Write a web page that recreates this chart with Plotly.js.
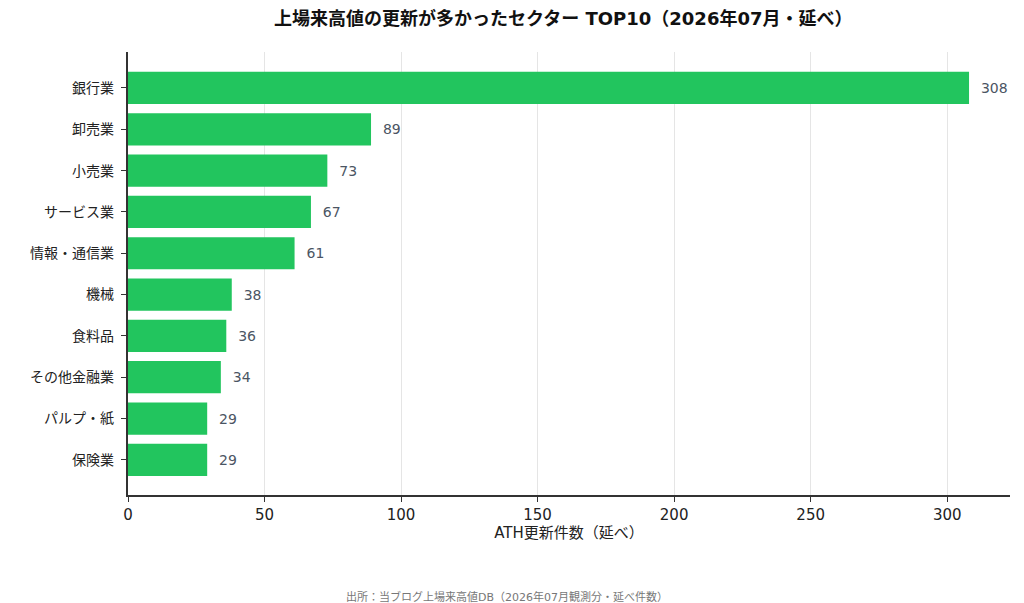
<!DOCTYPE html>
<html>
<head>
<meta charset="utf-8">
<script src="https://cdn.plot.ly/plotly-3.0.1.min.js"></script>
<style>html,body{margin:0;padding:0;background:#fff}</style>
</head>
<body>
<div id="chart" style="width:1024px;height:603px"></div>
<script>
const sectors = ['銀行業', '卸売業', '小売業', 'サービス業', '情報・通信業', '機械', '食料品', 'その他金融業', 'パルプ・紙', '保険業'];
const counts = [308, 89, 73, 67, 61, 38, 36, 34, 29, 29];
const tickValues = [0, 50, 100, 150, 200, 250, 300];

const font = '"DejaVu Sans", "Noto Sans CJK JP", sans-serif';

const trace = {
    type: 'bar',
    orientation: 'h',
    x: counts,
    y: sectors,
    text: counts.map(v => '  ' + v),
    textposition: 'outside',
    textfont: {family: font, size: 14, color: '#4b5563'},
    marker: {color: '#22c55e'},
    cliponaxis: false,
    hoverinfo: 'x+y'
};

const layout = {
    width: 1024,
    height: 603,
    margin: {l: 128, r: 14, t: 52, b: 108},
    paper_bgcolor: '#fff',
    plot_bgcolor: '#fff',
    font: {family: font, size: 14, color: '#222'},
    bargap: 0.22,
    showlegend: false,
    title: {
        text: '<b>上場来高値の更新が多かったセクター TOP10（2026年07月・延べ）</b>',
        font: {family: font, size: 18, color: '#111'},
        x: 0.55, xanchor: 'center', y: 0.98, yanchor: 'top'
    },
    xaxis: {
        range: [0, 323],
        tickvals: tickValues,
        showgrid: true,
        gridcolor: '#e5e5e5',
        zeroline: false,
        showline: true,
        linecolor: '#333',
        linewidth: 1.5,
        ticks: 'outside',
        ticklen: 5,
        tickcolor: '#333',
        tickfont: {size: 15, color: '#222'},
        title: {text: 'ATH更新件数（延べ）', font: {size: 15, color: '#222'}, standoff: 4}
    },
    yaxis: {
        range: [9.85, -0.87],
        showline: true,
        linecolor: '#333',
        linewidth: 1.5,
        ticks: 'outside',
        ticklen: 5,
        tickcolor: '#333',
        tickfont: {size: 14, color: '#222'},
        ticksuffix: ' '
    },
    annotations: [{
        text: '出所：当ブログ上場来高値DB（2026年07月観測分・延べ件数）',
        xref: 'paper', yref: 'paper', x: 0.43, y: -0.23,
        xanchor: 'center', yanchor: 'middle', showarrow: false,
        font: {family: font, size: 11, color: '#777'}
    }]
};

Plotly.newPlot('chart', [trace], layout, {displayModeBar: false});
</script>
</body>
</html>
